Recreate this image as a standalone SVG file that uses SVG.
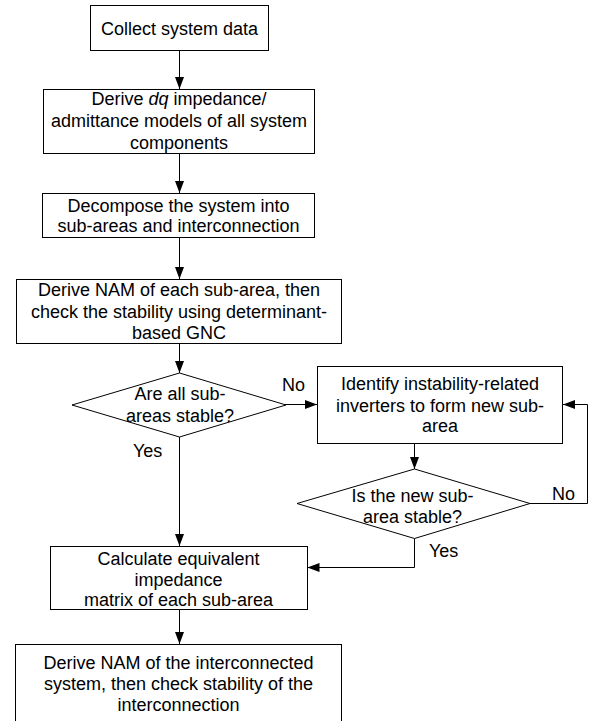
<svg xmlns="http://www.w3.org/2000/svg" width="592" height="721" viewBox="0 0 592 721">
<style>
.box{fill:#fff;stroke:#000;stroke-width:1}
.t{font-family:"Liberation Sans",Arial,sans-serif;font-size:18px;fill:#000;text-anchor:middle}
.l{font-family:"Liberation Sans",Arial,sans-serif;font-size:18px;fill:#000}
.c{fill:none;stroke:#000;stroke-width:1}
</style>
<defs>
<marker id="ah" markerUnits="userSpaceOnUse" markerWidth="12" markerHeight="10" refX="12" refY="4.5" orient="auto">
<path d="M0,0 L12,4.5 L0,9 z" fill="#000"/>
</marker>
</defs>
<rect width="592" height="721" fill="#fff"/>
<g id="connectors">
<path class="c" d="M179.5,51 V89" marker-end="url(#ah)"/>
<path class="c" d="M179.5,154 V193" marker-end="url(#ah)"/>
<path class="c" d="M179.5,238 V279" marker-end="url(#ah)"/>
<path class="c" d="M179.5,344 V373" marker-end="url(#ah)"/>
<path class="c" d="M285,404.5 H317" marker-end="url(#ah)"/>
<path class="c" d="M179.5,437 V546" marker-end="url(#ah)"/>
<path class="c" d="M414.5,444 V469" marker-end="url(#ah)"/>
<path class="c" d="M530,503.5 H587.5 V404.5 H563" marker-end="url(#ah)"/>
<path class="c" d="M414.5,538.5 V567.5 H307.5" marker-end="url(#ah)"/>
<path class="c" d="M179.5,609.5 V644" marker-end="url(#ah)"/>
<text class="l" x="282" y="391">No</text>
<text class="l" x="133" y="457">Yes</text>
<text class="l" x="552" y="500">No</text>
<text class="l" x="429" y="557">Yes</text>
</g>
<g id="n1">
<rect class="box" x="90.5" y="5.5" width="178" height="45"/>
<text class="t" x="179.5" y="34.5">Collect system data</text>
</g>
<g id="n2">
<rect class="box" x="43.5" y="89.5" width="271" height="64"/>
<text class="t" x="179" y="105">Derive <tspan font-style="italic">dq</tspan> impedance/</text>
<text class="t" x="179" y="127">admittance models of all system</text>
<text class="t" x="179" y="149">components</text>
</g>
<g id="n3">
<rect class="box" x="42.5" y="193.5" width="272" height="44"/>
<text class="t" x="178.5" y="212">Decompose the system into</text>
<text class="t" x="178.5" y="232">sub-areas and interconnection</text>
</g>
<g id="n4">
<rect class="box" x="16.5" y="279.5" width="325" height="64"/>
<text class="t" x="179" y="296">Derive NAM of each sub-area, then</text>
<text class="t" x="179" y="318">check the stability using determinant-</text>
<text class="t" x="179" y="339">based GNC</text>
</g>
<g id="n5">
<polygon class="box" points="179.5,373 286,405 179.5,437 72,405"/>
<text class="t" x="180" y="400">Are all sub-</text>
<text class="t" x="180" y="422">areas stable?</text>
</g>
<g id="n6">
<rect class="box" x="317.5" y="366.5" width="245" height="77"/>
<text class="t" x="440" y="390">Identify instability-related</text>
<text class="t" x="440" y="412">inverters to form new sub-</text>
<text class="t" x="440" y="432">area</text>
</g>
<g id="n7">
<polygon class="box" points="414.5,469 530,503.5 414.5,538.5 297,503.5"/>
<text class="t" x="412.5" y="502">Is the new sub-</text>
<text class="t" x="412.5" y="523">area stable?</text>
</g>
<g id="n8">
<rect class="box" x="50.5" y="546.5" width="257" height="63"/>
<text class="t" x="178.5" y="565">Calculate equivalent</text>
<text class="t" x="178.5" y="586">impedance</text>
<text class="t" x="178.5" y="606">matrix of each sub-area</text>
</g>
<g id="n9">
<rect class="box" x="15.5" y="644.5" width="326" height="80"/>
<text class="t" x="178.5" y="669">Derive NAM of the interconnected</text>
<text class="t" x="178.5" y="690">system, then check stability of the</text>
<text class="t" x="178.5" y="711">interconnection</text>
</g>
</svg>
